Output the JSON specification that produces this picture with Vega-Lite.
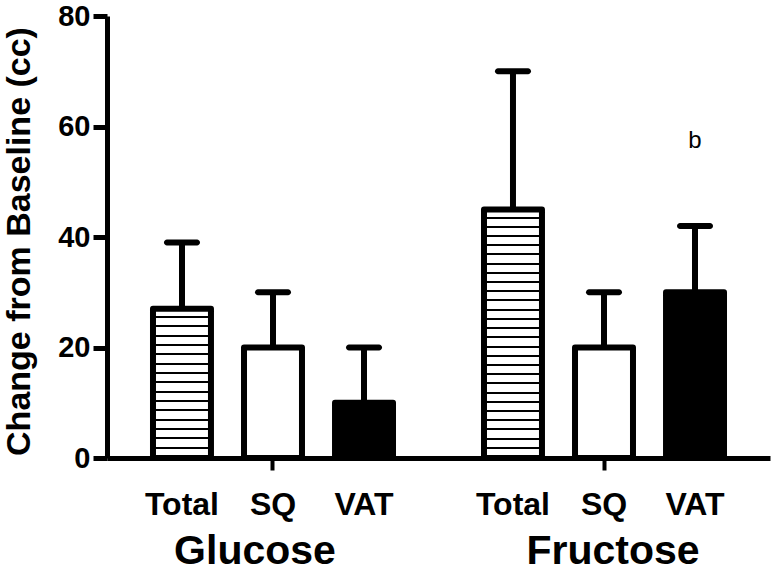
{
  "$schema": "https://vega.github.io/schema/vega-lite/v6.json",
  "width": 663,
  "height": 442,
  "autosize": {"type": "none"},
  "padding": {"left": 107, "top": 16, "right": 5, "bottom": 117},
  "background": "white",
  "config": {
    "view": {"stroke": null},
    "font": "Liberation Sans"
  },
  "datasets": {
    "bars": [
      {"group": "Glucose", "part": "Total", "mean": 27, "upper": 39},
      {"group": "Glucose", "part": "SQ", "mean": 20, "upper": 30},
      {"group": "Glucose", "part": "VAT", "mean": 10, "upper": 20},
      {"group": "Fructose", "part": "Total", "mean": 45, "upper": 70},
      {"group": "Fructose", "part": "SQ", "mean": 20, "upper": 30},
      {"group": "Fructose", "part": "VAT", "mean": 30, "upper": 42}
    ],
    "notes": [
      {"group": "Fructose", "part": "VAT", "pos": 57.4, "note": "b"}
    ]
  },
  "data": {"name": "bars"},
  "encoding": {
    "x": {
      "field": "group", "type": "nominal", "sort": ["Glucose", "Fructose"],
      "scale": {"paddingInner": 0.1, "paddingOuter": 0.0515},
      "axis": {
        "title": null, "labelAngle": 0, "labelFontSize": 41, "labelFontWeight": "bold",
        "labelColor": "black", "labelPadding": 61, "domainColor": "black", "domainWidth": 5,
        "labelOffset": {"condition": {"test": "datum.value === 'Glucose'", "value": -18}, "value": 9},
        "tickColor": "black", "tickWidth": 4, "tickSize": 12, "grid": false
      }
    },
    "xOffset": {
      "field": "part", "type": "nominal", "sort": ["Total", "SQ", "VAT"],
      "scale": {"paddingInner": 0.363, "paddingOuter": 0.318}
    },
    "y": {
      "field": "mean", "type": "quantitative",
      "scale": {"domain": [0, 80], "nice": false},
      "axis": {
        "title": "Change from Baseline (cc)", "values": [0, 20, 40, 60, 80],
        "grid": false, "labelFontSize": 29, "labelFontWeight": "bold", "labelColor": "black",
        "labelPadding": 3, "tickSize": 14, "tickWidth": 5, "tickColor": "black",
        "domainColor": "black", "domainWidth": 5,
        "titleFontSize": 34, "titleFontWeight": "bold", "titleColor": "black",
        "titleAngle": -90, "titleBaseline": "middle", "titleAlign": "center",
        "titleX": -88, "titleY": 225
      }
    }
  },
  "layer": [
    {
      "mark": {"type": "rule", "strokeWidth": 6, "color": "black"},
      "encoding": {"y2": {"field": "upper"}}
    },
    {
      "mark": {"type": "tick", "size": 36, "thickness": 6, "color": "black", "cornerRadius": 3, "opacity": 1},
      "encoding": {"y": {"field": "upper", "type": "quantitative"}}
    },
    {
      "transform": [{"filter": "datum.part !== 'Total'"}],
      "mark": {"type": "bar", "stroke": "black", "strokeWidth": 6, "strokeJoin": "round"},
      "encoding": {
        "fill": {"field": "part", "type": "nominal", "scale": {"domain": ["SQ", "VAT"], "range": ["white", "black"]}, "legend": null}
      }
    },
    {
      "transform": [{"filter": "datum.group === 'Glucose' && datum.part === 'Total'"}],
      "mark": {
        "type": "bar", "stroke": "black", "strokeWidth": 6, "strokeJoin": "round",
        "fill": {
          "gradient": "linear", "x1": 0, "y1": 0, "x2": 0, "y2": 1,
          "stops": [
            {"offset": 0, "color": "white"},
            {"offset": 0.0488, "color": "white"}, {"offset": 0.0488, "color": "black"}, {"offset": 0.0625, "color": "black"}, {"offset": 0.0625, "color": "white"},
            {"offset": 0.1113, "color": "white"}, {"offset": 0.1113, "color": "black"}, {"offset": 0.125, "color": "black"}, {"offset": 0.125, "color": "white"},
            {"offset": 0.1738, "color": "white"}, {"offset": 0.1738, "color": "black"}, {"offset": 0.1875, "color": "black"}, {"offset": 0.1875, "color": "white"},
            {"offset": 0.2363, "color": "white"}, {"offset": 0.2363, "color": "black"}, {"offset": 0.25, "color": "black"}, {"offset": 0.25, "color": "white"},
            {"offset": 0.2988, "color": "white"}, {"offset": 0.2988, "color": "black"}, {"offset": 0.3125, "color": "black"}, {"offset": 0.3125, "color": "white"},
            {"offset": 0.3613, "color": "white"}, {"offset": 0.3613, "color": "black"}, {"offset": 0.375, "color": "black"}, {"offset": 0.375, "color": "white"},
            {"offset": 0.4238, "color": "white"}, {"offset": 0.4238, "color": "black"}, {"offset": 0.4375, "color": "black"}, {"offset": 0.4375, "color": "white"},
            {"offset": 0.4863, "color": "white"}, {"offset": 0.4863, "color": "black"}, {"offset": 0.5, "color": "black"}, {"offset": 0.5, "color": "white"},
            {"offset": 0.5488, "color": "white"}, {"offset": 0.5488, "color": "black"}, {"offset": 0.5625, "color": "black"}, {"offset": 0.5625, "color": "white"},
            {"offset": 0.6113, "color": "white"}, {"offset": 0.6113, "color": "black"}, {"offset": 0.625, "color": "black"}, {"offset": 0.625, "color": "white"},
            {"offset": 0.6738, "color": "white"}, {"offset": 0.6738, "color": "black"}, {"offset": 0.6875, "color": "black"}, {"offset": 0.6875, "color": "white"},
            {"offset": 0.7363, "color": "white"}, {"offset": 0.7363, "color": "black"}, {"offset": 0.75, "color": "black"}, {"offset": 0.75, "color": "white"},
            {"offset": 0.7988, "color": "white"}, {"offset": 0.7988, "color": "black"}, {"offset": 0.8125, "color": "black"}, {"offset": 0.8125, "color": "white"},
            {"offset": 0.8613, "color": "white"}, {"offset": 0.8613, "color": "black"}, {"offset": 0.875, "color": "black"}, {"offset": 0.875, "color": "white"},
            {"offset": 0.9238, "color": "white"}, {"offset": 0.9238, "color": "black"}, {"offset": 0.9375, "color": "black"}, {"offset": 0.9375, "color": "white"},
            {"offset": 0.9863, "color": "white"}, {"offset": 0.9863, "color": "black"}, {"offset": 1, "color": "black"}
          ]
        }
      }
    },
    {
      "transform": [{"filter": "datum.group === 'Fructose' && datum.part === 'Total'"}],
      "mark": {
        "type": "bar", "stroke": "black", "strokeWidth": 6, "strokeJoin": "round",
        "fill": {
          "gradient": "linear", "x1": 0, "y1": 0, "x2": 0, "y2": 1,
          "stops": [
            {"offset": 0, "color": "white"},
            {"offset": 0.0290, "color": "white"}, {"offset": 0.0290, "color": "black"}, {"offset": 0.0370, "color": "black"}, {"offset": 0.0370, "color": "white"},
            {"offset": 0.0661, "color": "white"}, {"offset": 0.0661, "color": "black"}, {"offset": 0.0741, "color": "black"}, {"offset": 0.0741, "color": "white"},
            {"offset": 0.1031, "color": "white"}, {"offset": 0.1031, "color": "black"}, {"offset": 0.1111, "color": "black"}, {"offset": 0.1111, "color": "white"},
            {"offset": 0.1401, "color": "white"}, {"offset": 0.1401, "color": "black"}, {"offset": 0.1481, "color": "black"}, {"offset": 0.1481, "color": "white"},
            {"offset": 0.1772, "color": "white"}, {"offset": 0.1772, "color": "black"}, {"offset": 0.1852, "color": "black"}, {"offset": 0.1852, "color": "white"},
            {"offset": 0.2142, "color": "white"}, {"offset": 0.2142, "color": "black"}, {"offset": 0.2222, "color": "black"}, {"offset": 0.2222, "color": "white"},
            {"offset": 0.2513, "color": "white"}, {"offset": 0.2513, "color": "black"}, {"offset": 0.2593, "color": "black"}, {"offset": 0.2593, "color": "white"},
            {"offset": 0.2883, "color": "white"}, {"offset": 0.2883, "color": "black"}, {"offset": 0.2963, "color": "black"}, {"offset": 0.2963, "color": "white"},
            {"offset": 0.3253, "color": "white"}, {"offset": 0.3253, "color": "black"}, {"offset": 0.3333, "color": "black"}, {"offset": 0.3333, "color": "white"},
            {"offset": 0.3624, "color": "white"}, {"offset": 0.3624, "color": "black"}, {"offset": 0.3704, "color": "black"}, {"offset": 0.3704, "color": "white"},
            {"offset": 0.3994, "color": "white"}, {"offset": 0.3994, "color": "black"}, {"offset": 0.4074, "color": "black"}, {"offset": 0.4074, "color": "white"},
            {"offset": 0.4364, "color": "white"}, {"offset": 0.4364, "color": "black"}, {"offset": 0.4444, "color": "black"}, {"offset": 0.4444, "color": "white"},
            {"offset": 0.4735, "color": "white"}, {"offset": 0.4735, "color": "black"}, {"offset": 0.4815, "color": "black"}, {"offset": 0.4815, "color": "white"},
            {"offset": 0.5105, "color": "white"}, {"offset": 0.5105, "color": "black"}, {"offset": 0.5185, "color": "black"}, {"offset": 0.5185, "color": "white"},
            {"offset": 0.5476, "color": "white"}, {"offset": 0.5476, "color": "black"}, {"offset": 0.5556, "color": "black"}, {"offset": 0.5556, "color": "white"},
            {"offset": 0.5846, "color": "white"}, {"offset": 0.5846, "color": "black"}, {"offset": 0.5926, "color": "black"}, {"offset": 0.5926, "color": "white"},
            {"offset": 0.6216, "color": "white"}, {"offset": 0.6216, "color": "black"}, {"offset": 0.6296, "color": "black"}, {"offset": 0.6296, "color": "white"},
            {"offset": 0.6587, "color": "white"}, {"offset": 0.6587, "color": "black"}, {"offset": 0.6667, "color": "black"}, {"offset": 0.6667, "color": "white"},
            {"offset": 0.6957, "color": "white"}, {"offset": 0.6957, "color": "black"}, {"offset": 0.7037, "color": "black"}, {"offset": 0.7037, "color": "white"},
            {"offset": 0.7327, "color": "white"}, {"offset": 0.7327, "color": "black"}, {"offset": 0.7407, "color": "black"}, {"offset": 0.7407, "color": "white"},
            {"offset": 0.7698, "color": "white"}, {"offset": 0.7698, "color": "black"}, {"offset": 0.7778, "color": "black"}, {"offset": 0.7778, "color": "white"},
            {"offset": 0.8068, "color": "white"}, {"offset": 0.8068, "color": "black"}, {"offset": 0.8148, "color": "black"}, {"offset": 0.8148, "color": "white"},
            {"offset": 0.8439, "color": "white"}, {"offset": 0.8439, "color": "black"}, {"offset": 0.8519, "color": "black"}, {"offset": 0.8519, "color": "white"},
            {"offset": 0.8809, "color": "white"}, {"offset": 0.8809, "color": "black"}, {"offset": 0.8889, "color": "black"}, {"offset": 0.8889, "color": "white"},
            {"offset": 0.9179, "color": "white"}, {"offset": 0.9179, "color": "black"}, {"offset": 0.9259, "color": "black"}, {"offset": 0.9259, "color": "white"},
            {"offset": 0.9550, "color": "white"}, {"offset": 0.9550, "color": "black"}, {"offset": 0.9630, "color": "black"}, {"offset": 0.9630, "color": "white"},
            {"offset": 0.9920, "color": "white"}, {"offset": 0.9920, "color": "black"}, {"offset": 1, "color": "black"}
          ]
        }
      }
    },
    {
      "mark": {"type": "text", "fontSize": 32, "fontWeight": "bold", "color": "black", "baseline": "alphabetic", "dy": 57},
      "encoding": {
        "y": {"datum": 0, "type": "quantitative"},
        "text": {"field": "part"}
      }
    },
    {
      "data": {"name": "notes"},
      "mark": {"type": "text", "fontSize": 24, "color": "black", "baseline": "middle"},
      "encoding": {
        "y": {"field": "pos", "type": "quantitative"},
        "text": {"field": "note"}
      }
    }
  ]
}
